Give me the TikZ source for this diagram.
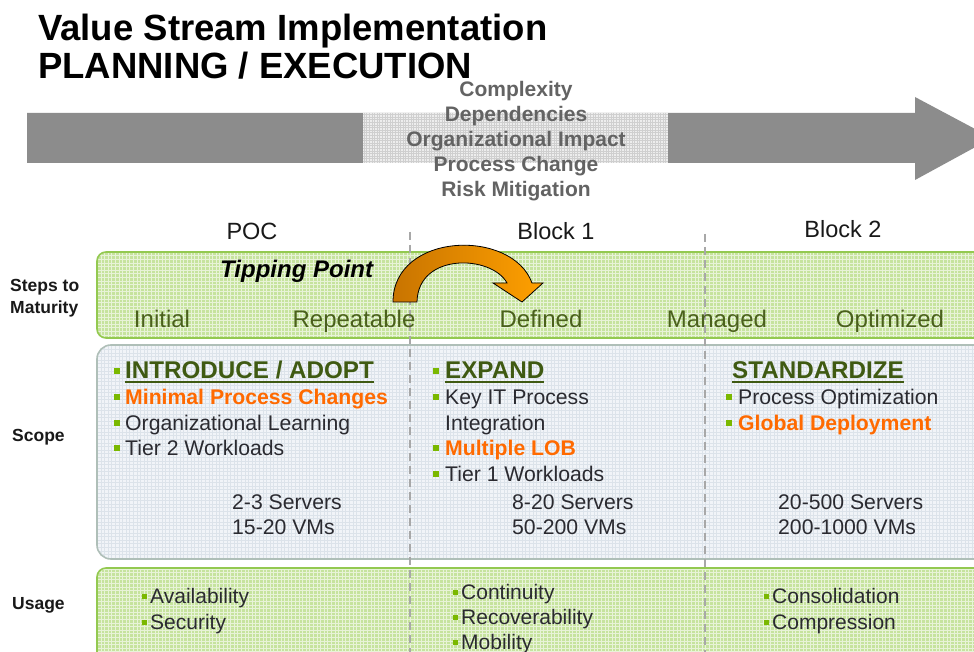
\documentclass[tikz,border=0pt]{standalone}
\usepackage{fontspec}
\setmainfont{Liberation Sans}
\usetikzlibrary{calc}
\definecolor{darktext}{HTML}{2A2A30}
\definecolor{headgreen}{HTML}{3F5A12}
\definecolor{stepgreen}{HTML}{4A601C}
\definecolor{hotorange}{HTML}{FF6A00}
\definecolor{bulletgreen}{HTML}{7AB800}
\definecolor{arrowgray}{HTML}{8C8C8C}
\definecolor{midtextgray}{HTML}{636363}
\definecolor{greenfill}{HTML}{C6E39E}
\definecolor{greenborder}{HTML}{93C950}
\definecolor{scopefill}{HTML}{F1F4F8}
\definecolor{scopegrid}{HTML}{DCE3EA}
\definecolor{scopeborder}{HTML}{AFBFB8}
\definecolor{dashgray}{HTML}{A8A8A8}
\definecolor{arrowdark}{HTML}{C87400}
\definecolor{arrowlight}{HTML}{FFA000}
\begin{document}
\begin{tikzpicture}[x=1pt,y=-1pt,
  txt/.style={inner sep=0pt, anchor=base west, font=\fontsize{21.2}{25}\selectfont, text=darktext},
  hd/.style={txt, font=\fontsize{24.2}{28}\selectfont\bfseries, text=headgreen},
  hot/.style={txt, font=\fontsize{21.2}{25}\selectfont\bfseries, text=hotorange},
  titletxt/.style={inner sep=0pt, anchor=base west, font=\fontsize{36.5}{40}\selectfont\bfseries, text=black},
  midtxt/.style={inner sep=0pt, anchor=base, font=\fontsize{21}{25}\selectfont\bfseries, text=midtextgray},
  colhead/.style={inner sep=0pt, anchor=base, font=\fontsize{23.5}{28}\selectfont, text=black!90},
  rowlabel/.style={inner sep=0pt, anchor=base west, font=\fontsize{17.5}{20}\selectfont\bfseries, text=black!90},
  steptxt/.style={inner sep=0pt, anchor=base, font=\fontsize{24}{28}\selectfont, text=stepgreen},
  usetxt/.style={txt, font=\fontsize{21}{25}\selectfont},
  bul/.style={fill=bulletgreen, inner sep=0pt, minimum size=6pt, draw=none},
  ubul/.style={fill=bulletgreen, inner sep=0pt, minimum size=5pt, draw=none},
  colline/.style={dashgray, line width=1.3pt, dash pattern=on 8pt off 5pt},
  greenbox/.style={draw=greenborder, line width=1.6pt, rounded corners=9pt},
  scopebox/.style={draw=scopeborder, line width=1.6pt, rounded corners=14pt}
]
\useasboundingbox (0,0) rectangle (974,652);
\clip (0,0) rectangle (974,652);
\fill[white] (0,0) rectangle (974,652);

% title
\node[titletxt] (t1) at (38,41) {Value Stream Implementation};
\node[titletxt] (t2) at (38,79) {PLANNING / EXECUTION};

% big arrow
\fill[arrowgray] (27,113) -- (915,113) -- (915,97) -- (992,138) -- (915,180) -- (915,163) -- (27,163) -- cycle;
\fill[gray!14] (363,113) rectangle (668,163);
\draw[gray!38, line width=0.5pt, step=2.6pt] (363,113) grid (668,163);

\node[midtxt] (m1) at (516,97) {Complexity};
\node[midtxt] (m2) at (516,122) {Dependencies};
\node[midtxt] (m3) at (516,147) {Organizational Impact};
\node[midtxt] (m4) at (516,172) {Process Change};
\node[midtxt] (m5) at (516,197) {Risk Mitigation};

% column headers
\node[colhead] (c1) at (252,240) {POC};
\node[colhead] (c2) at (556,240) {Block 1};
\node[colhead] (c3) at (843,238) {Block 2};

% row labels
\node[rowlabel] (r1) at (10,291) {Steps to};
\node[rowlabel] (r2) at (10,313) {Maturity};
\node[rowlabel] (r3) at (12,441) {Scope};
\node[rowlabel] (r4) at (12,609) {Usage};

% steps band
\begin{scope}
  \clip[rounded corners=9pt] (97,252) rectangle (1010,338);
  \fill[greenfill] (97,252) rectangle (1010,338);
  \draw[white, opacity=0.6, line width=0.6pt, step=3.6pt] (97,252) grid (1010,338);
\end{scope}
\draw[greenbox] (97,252) rectangle (1010,338);

% scope box
\begin{scope}
  \clip[rounded corners=14pt] (97,345) rectangle (1010,559);
  \fill[scopefill] (97,345) rectangle (1010,559);
  \draw[scopegrid, line width=0.5pt, step=3.6pt] (97,345) grid (1010,559);
\end{scope}
\draw[scopebox] (97,345) rectangle (1010,559);

% usage box
\begin{scope}
  \clip[rounded corners=9pt] (97,568) rectangle (1010,680);
  \fill[greenfill] (97,568) rectangle (1010,680);
  \draw[white, opacity=0.6, line width=0.6pt, step=3.6pt] (97,568) grid (1010,680);
\end{scope}
\draw[greenbox] (97,568) rectangle (1010,680);

% dashed column separators
\coordinate (d1a) at (410,232);
\coordinate (d1b) at (410,652);
\coordinate (d2a) at (705,234);
\coordinate (d2b) at (705,652);
\draw[colline] (d1a) -- (d1b);
\draw[colline] (d2a) -- (d2b);

% steps
\node[inner sep=0pt, anchor=base west, font=\fontsize{24}{28}\selectfont\bfseries\itshape] (tp) at (220,278) {Tipping Point};
\node[steptxt] (s1) at (162,327) {Initial};
\node[steptxt] (s2) at (354,327) {Repeatable};
\node[steptxt] (s3) at (541,327) {Defined};
\node[steptxt] (s4) at (717,327) {Managed};
\node[steptxt] (s5) at (890,327) {Optimized};

% tipping arrow
\shade[left color=arrowdark, right color=arrowlight, draw=black, line width=0.8pt, line join=miter]
  (393,302) .. controls (393,232) and (512,228) .. (532,283)
  -- (543,283) -- (522,302) -- (493,283) -- (507,283)
  .. controls (492,255) and (418,252) .. (417,302) -- cycle;

% scope column 1
\node[bul] (b11) at (117,371) {};
\node[hd] (h1) at (125,378) {INTRODUCE / ADOPT};
\draw[headgreen, line width=2.2pt] ([yshift=-4pt]h1.base west) -- ([yshift=-4pt]h1.base east);
\node[bul] (b12) at (117,397) {};
\node[hot] (a12) at (125,404) {Minimal Process Changes};
\node[bul] (b13) at (117,423) {};
\node[txt] (a13) at (125,430) {Organizational Learning};
\node[bul] (b14) at (117,448) {};
\node[txt] (a14) at (125,455) {Tier 2 Workloads};
\node[txt] (n11) at (232,509) {2-3 Servers};
\node[txt] (n12) at (232,534) {15-20 VMs};

% scope column 2
\node[bul] (b21) at (435.5,371) {};
\node[hd] (h2) at (445,378) {EXPAND};
\draw[headgreen, line width=2.2pt] ([yshift=-4pt]h2.base west) -- ([yshift=-4pt]h2.base east);
\node[bul] (b22) at (435.5,397) {};
\node[txt] (a22) at (445,404) {Key IT Process};
\node[txt] (a22b) at (445,430) {Integration};
\node[bul] (b23) at (435.5,448) {};
\node[hot] (a23) at (445,455) {Multiple LOB};
\node[bul] (b24) at (435.5,474) {};
\node[txt] (a24) at (445,481) {Tier 1 Workloads};
\node[txt] (n21) at (512,509) {8-20 Servers};
\node[txt] (n22) at (512,534) {50-200 VMs};

% scope column 3
\node[hd] (h3) at (732,378) {STANDARDIZE};
\draw[headgreen, line width=2.2pt] ([yshift=-4pt]h3.base west) -- ([yshift=-4pt]h3.base east);
\node[bul] (b31) at (729,397) {};
\node[txt] (a31) at (738,404) {Process Optimization};
\node[bul] (b32) at (729,423) {};
\node[hot] (a32) at (738,430) {Global Deployment};
\node[txt] (n31) at (778,509) {20-500 Servers};
\node[txt] (n32) at (778,534) {200-1000 VMs};

% usage
\node[ubul] (u11) at (144,596) {};
\node[usetxt] (v11) at (150,603) {Availability};
\node[ubul] (u12) at (144,622) {};
\node[usetxt] (v12) at (150,629) {Security};
\node[ubul] (u21) at (455,592) {};
\node[usetxt] (v21) at (461,599) {Continuity};
\node[ubul] (u22) at (455,617) {};
\node[usetxt] (v22) at (461,624) {Recoverability};
\node[ubul] (u23) at (455,642) {};
\node[usetxt] (v23) at (461,649) {Mobility};
\node[ubul] (u31) at (766,596) {};
\node[usetxt] (v31) at (772,603) {Consolidation};
\node[ubul] (u32) at (766,622) {};
\node[usetxt] (v32) at (772,629) {Compression};
\end{tikzpicture}
\end{document}
